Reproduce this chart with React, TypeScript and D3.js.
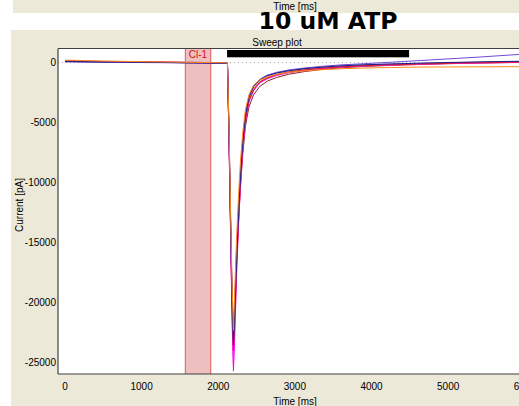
import React from "react";
import * as d3 from "d3";

const W = 519;
const H = 406;

// shared time base (ms)
const times = [0, 250, 500, 800, 1100, 1400, 1700, 1950, 2120, 2140, 2160, 2180, 2198, 2215, 2240, 2265, 2290, 2320, 2355, 2400, 2460, 2540, 2640, 2760, 2920, 3120, 3350, 3600, 3900, 4250, 4600, 5000, 5400, 5800, 6200];

const navy = [80, 60, 40, 30, 10, -10, -30, -50, -60, -5500, -12800, -19800, -23500, -20800, -16200, -12400, -9400, -6500, -4400, -2900, -2000, -1450, -1100, -880, -680, -520, -390, -280, -190, -120, -60, 0, 50, 90, 120];
const violet = [60, 40, 30, 10, -10, -20, -40, -60, -70, -6200, -13200, -19600, -23000, -20300, -15600, -12000, -9100, -6300, -4200, -2800, -1950, -1400, -1050, -820, -620, -460, -320, -200, -100, 20, 150, 300, 450, 620, 780];
const magenta = [100, 90, 70, 50, 30, 10, -10, -30, -50, -6400, -14000, -21500, -25700, -22800, -17500, -13500, -10200, -7200, -4900, -3300, -2350, -1700, -1350, -1080, -850, -660, -500, -380, -290, -210, -150, -90, -40, 0, 30];
const pink = [140, 110, 90, 70, 50, 30, 10, -10, -30, -6300, -13800, -21000, -25200, -22200, -17000, -13100, -10000, -7000, -4800, -3200, -2300, -1680, -1320, -1050, -820, -640, -490, -370, -280, -200, -140, -80, -30, 10, 40];
const red = [130, 100, 80, 60, 40, 20, 0, -20, -40, -6100, -13400, -20300, -24000, -21300, -16600, -12900, -9800, -6900, -4700, -3150, -2250, -1640, -1280, -1020, -800, -620, -480, -360, -270, -190, -130, -70, -20, 20, 50];
const orange = [200, 160, 120, 90, 60, 30, 10, -10, -30, -5200, -12000, -18500, -22300, -19000, -14500, -11000, -8200, -5800, -3900, -2700, -1900, -1450, -1200, -1000, -820, -700, -600, -520, -460, -420, -380, -370, -360, -350, -340];
const olive = [110, 90, 70, 50, 30, 10, -10, -30, -50, -6000, -13600, -20800, -24500, -21600, -16800, -13000, -9900, -6950, -4750, -3200, -2280, -1660, -1300, -1030, -800, -620, -470, -350, -250, -170, -100, -40, 10, 50, 80];
const maroon = [90, 70, 50, 40, 20, 0, -20, -40, -50, -5800, -12900, -19200, -22800, -20600, -16500, -13200, -10400, -7600, -5300, -3700, -2700, -2000, -1550, -1250, -980, -760, -580, -440, -330, -240, -170, -100, -50, -10, 20];
const lavender = [150, 120, 100, 80, 60, 40, 20, 0, -20, -5900, -12600, -18900, -22100, -19700, -15300, -11900, -9100, -6400, -4300, -2900, -2050, -1500, -1150, -920, -710, -540, -400, -290, -200, -130, -70, -20, 20, 60, 90];
const green = [100, 80, 60, 40, 20, 0, -20, -40, -60, -6200, -13500, -20600, -23800, -21000, -16300, -12700, -9700, -6800, -4650, -3100, -2200, -1600, -1240, -990, -770, -590, -450, -330, -240, -160, -100, -40, 10, 50, 80];

const sweeps = [
  { name: "lavender", values: lavender, color: "#a898f0" },
  { name: "green", values: green, color: "#a0b848" },
  { name: "olive", values: olive, color: "#c8c040" },
  { name: "maroon", values: maroon, color: "#8b1f2a" },
  { name: "pink", values: pink, color: "#ff70c8" },
  { name: "magenta", values: magenta, color: "#ff00ff" },
  { name: "red", values: red, color: "#e02020" },
  { name: "violet", values: violet, color: "#6f4ad8" },
  { name: "navy", values: navy, color: "#1a1a8c" },
  { name: "orange", values: orange, color: "#ff8a1a" },
];

const xTicks = [0, 1000, 2000, 3000, 4000, 5000, 6000];
const yTicks = [0, -5000, -10000, -15000, -20000, -25000];
const cursorRange = [1570, 1902]; // Cl-1 region (ms)
const sweepBar = [2115, 4490]; // black bar (ms)

export default function App() {
  const plotL = 58;
  const plotT = 48.5;
  const plotB = 374;
  const plotR = 580;

  const x = d3.scaleLinear().domain([0, 6000]).range([65, 65 + 6000 * 0.07663]);
  const y = d3.scaleLinear().domain([0, -25000]).range([62.5, 362.7]);

  const line = d3
    .line<number>()
    .x((_, i) => x(times[i]))
    .y((d) => y(d))
    .curve(d3.curveLinear);

  const font = "'Liberation Sans', Arial, sans-serif";

  return (
    <svg
      width={W}
      height={H}
      style={{ position: "absolute", left: 0, top: 0, background: "#ffffff" }}
    >
      <defs>
        <clipPath id="plotClip">
          <rect x={plotL} y={plotT} width={plotR - plotL} height={plotB - plotT} />
        </clipPath>
      </defs>
      {/* top strip */}
      <rect x={13} y={0} width={W - 13} height={13} fill="#ece9d8" />
      <text x={295} y={10} fontFamily={font} fontSize={10} textAnchor="middle" fill="#000">
        Time [ms]
      </text>
      {/* main beige panel */}
      <rect x={11} y={30} width={W - 11} height={H - 30} fill="#ece9d8" />
      {/* title */}
      <text
        x={328}
        y={29}
        fontFamily="'DejaVu Sans', Verdana, sans-serif"
        fontWeight="bold"
        fontSize={23.5}
        textAnchor="middle"
        fill="#000"
      >
        10 uM ATP
      </text>
      <text x={277} y={45.5} fontFamily={font} fontSize={10} textAnchor="middle" fill="#000">
        Sweep plot
      </text>
      {/* plot area */}
      <rect x={plotL} y={plotT} width={plotR - plotL} height={plotB - plotT} fill="#ffffff" />
      <g clipPath="url(#plotClip)">
        <rect
          x={x(cursorRange[0])}
          y={plotT}
          width={x(cursorRange[1]) - x(cursorRange[0])}
          height={plotB - plotT}
          fill="#edbfbf"
        />
        <line x1={x(cursorRange[0])} x2={x(cursorRange[0])} y1={plotT} y2={plotB} stroke="#e05a5a" strokeWidth={1} />
        <line x1={x(cursorRange[1])} x2={x(cursorRange[1])} y1={plotT} y2={plotB} stroke="#e05a5a" strokeWidth={1} />
        <line
          x1={plotL}
          x2={plotR}
          y1={y(0)}
          y2={y(0)}
          stroke="#a8a8a8"
          strokeWidth={1}
          strokeDasharray="1,3"
        />
        {sweeps.map((s) => (
          <path key={s.name} d={line(s.values) || ""} fill="none" stroke={s.color} strokeWidth={1} />
        ))}
        <rect
          x={x(sweepBar[0])}
          y={50}
          width={x(sweepBar[1]) - x(sweepBar[0])}
          height={7.3}
          fill="#000"
        />
        <text
          x={(x(cursorRange[0]) + x(cursorRange[1])) / 2}
          y={58}
          fontFamily={font}
          fontSize={10}
          textAnchor="middle"
          fill="#d01010"
        >
          Cl-1
        </text>
      </g>
      {/* border */}
      <line x1={plotL} x2={plotL} y1={plotT} y2={plotB} stroke="#404040" strokeWidth={1.2} />
      <line x1={plotL} x2={plotR} y1={plotB} y2={plotB} stroke="#404040" strokeWidth={1.2} />
      <line x1={plotL} x2={plotR} y1={plotT} y2={plotT} stroke="#404040" strokeWidth={1.2} />
      {/* y ticks */}
      {yTicks.map((t) => (
        <text
          key={t}
          x={56}
          y={y(t) + 3.5}
          fontFamily={font}
          fontSize={10}
          textAnchor="end"
          fill="#000"
        >
          {t}
        </text>
      ))}
      {/* x ticks */}
      {xTicks.map((t) => (
        <text key={t} x={x(t)} y={390} fontFamily={font} fontSize={10} textAnchor="middle" fill="#000">
          {t}
        </text>
      ))}
      <text x={295} y={405} fontFamily={font} fontSize={10} textAnchor="middle" fill="#000">
        Time [ms]
      </text>
      <text
        transform="translate(23,205) rotate(-90)"
        fontFamily={font}
        fontSize={10}
        textAnchor="middle"
        fill="#000"
      >
        Current [pA]
      </text>
    </svg>
  );
}
